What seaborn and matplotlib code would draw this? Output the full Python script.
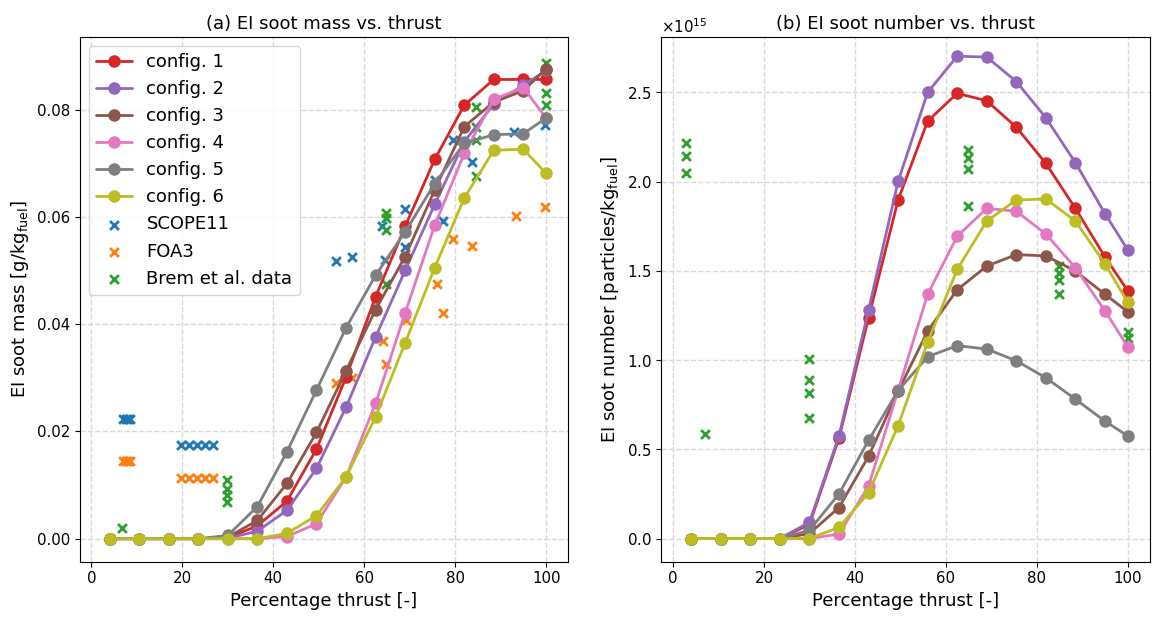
import numpy as np
import pandas as pd
import matplotlib
matplotlib.use("Agg")
import matplotlib.pyplot as plt
import seaborn as sns

# thrust settings of the model runs
thrust = [4, 10.5, 17, 23.5, 30, 36.5, 43, 49.5, 56, 62.5, 69, 75.5, 82, 88.5, 95, 100]

# EI soot mass [g/kg fuel]
mass_c1 = [0, 0, 0, 0, 0.0002, 0.0024, 0.0070, 0.0167, 0.0301, 0.0451, 0.0582, 0.0707, 0.0808, 0.0856, 0.0856, 0.0856]
mass_c2 = [0, 0, 0, 0, 0.0001, 0.0014, 0.0053, 0.0131, 0.0245, 0.0376, 0.0500, 0.0623, 0.0740, 0.0810, 0.0845, 0.0873]
mass_c3 = [0, 0, 0, 0, 0.0003, 0.0034, 0.0103, 0.0198, 0.0313, 0.0427, 0.0526, 0.0650, 0.0768, 0.0814, 0.0835, 0.0876]
mass_c4 = [0, 0, 0, 0, 0, 0, 0.0004, 0.0028, 0.0115, 0.0252, 0.0421, 0.0584, 0.0718, 0.0819, 0.0841, 0.0784]
mass_c5 = [0, 0, 0, 0, 0.0006, 0.0060, 0.0162, 0.0277, 0.0393, 0.0491, 0.0572, 0.0662, 0.0737, 0.0753, 0.0755, 0.0784]
mass_c6 = [0, 0, 0, 0, 0, 0, 0.0010, 0.0043, 0.0115, 0.0227, 0.0365, 0.0505, 0.0635, 0.0724, 0.0726, 0.0681]

# EI soot number [particles/kg fuel], in units of 1e15
num_c1 = [0, 0, 0, 0, 0.08, 0.563, 1.237, 1.897, 2.339, 2.495, 2.453, 2.305, 2.102, 1.850, 1.578, 1.389]
num_c2 = [0, 0, 0, 0, 0.091, 0.575, 1.281, 2.001, 2.500, 2.703, 2.698, 2.561, 2.358, 2.106, 1.821, 1.618]
num_c3 = [0, 0, 0, 0, 0.028, 0.174, 0.461, 0.825, 1.163, 1.394, 1.527, 1.591, 1.584, 1.499, 1.369, 1.271]
num_c4 = [0, 0, 0, 0, 0, 0.025, 0.294, 0.830, 1.369, 1.694, 1.850, 1.834, 1.707, 1.517, 1.276, 1.076]
num_c5 = [0, 0, 0, 0, 0.047, 0.250, 0.550, 0.829, 1.019, 1.081, 1.062, 0.996, 0.901, 0.781, 0.658, 0.575]
num_c6 = [0, 0, 0, 0, 0, 0.063, 0.256, 0.632, 1.100, 1.508, 1.779, 1.897, 1.903, 1.779, 1.540, 1.324]

# SCOPE11 estimates
scope_x = [7, 7.5, 8, 8.5, 19.7, 21.4, 23.2, 24.9, 26.7, 53.8, 57.4, 63.9, 64.5, 69.0, 69.0, 75.5, 77.3, 79.5, 83.7, 93.0, 99.8]
scope_y = [0.0224, 0.0224, 0.0224, 0.0224, 0.0175, 0.0175, 0.0175, 0.0175, 0.0175, 0.0518, 0.0526, 0.0582, 0.0519,
           0.0615, 0.0544, 0.0668, 0.0592, 0.0743, 0.0702, 0.0758, 0.0772]

# FOA3 estimates
foa_x = [7, 7.5, 8, 8.5, 19.7, 21.4, 23.2, 24.9, 26.7, 53.8, 57.4, 64.1, 64.8, 69.1, 76.0, 77.3, 79.5, 83.7, 93.4, 99.8]
foa_y = [0.0144, 0.0144, 0.0144, 0.0144, 0.0113, 0.0113, 0.0113, 0.0113, 0.0113, 0.0290, 0.0300, 0.0368, 0.0326,
         0.0408, 0.0474, 0.0420, 0.0559, 0.0545, 0.0601, 0.0618]

# Brem et al. measurements
brem_mass_x = [6.8, 29.8, 29.8, 29.8, 29.8, 64.7, 64.7, 64.7, 64.7, 84.6, 84.6, 84.6, 84.6, 100, 100, 100]
brem_mass_y = [0.0020, 0.0109, 0.0093, 0.0081, 0.0068, 0.0608, 0.0597, 0.0575, 0.0475, 0.0805, 0.0768, 0.0743,
               0.0676, 0.0886, 0.0831, 0.0808]
brem_num_x = [2.9, 2.9, 2.9, 7.0, 29.9, 29.9, 29.9, 29.9, 64.9, 64.9, 64.9, 64.9, 85, 85, 85, 85, 100, 100]
brem_num_y = [2.216, 2.143, 2.049, 0.586, 1.005, 0.891, 0.816, 0.673, 2.176, 2.134, 2.068, 1.863, 1.527, 1.489,
              1.447, 1.372, 1.157, 1.123]

configs = ['config. 1', 'config. 2', 'config. 3', 'config. 4', 'config. 5', 'config. 6']
colors = ['tab:red', 'tab:purple', 'tab:brown', 'tab:pink', 'tab:gray', 'tab:olive']

mass_all = [mass_c1, mass_c2, mass_c3, mass_c4, mass_c5, mass_c6]
num_all = [num_c1, num_c2, num_c3, num_c4, num_c5, num_c6]

rows = []
for name, m, n in zip(configs, mass_all, num_all):
    for t, a, b in zip(thrust, m, n):
        rows.append({'config': name, 'thrust': t, 'mass': a, 'number': b * 1e15})
df = pd.DataFrame(rows)

sns.set_style("ticks")
plt.rcParams['font.family'] = ['DejaVu Sans']
plt.rcParams['text.color'] = 'black'
plt.rcParams['axes.labelcolor'] = 'black'
plt.rcParams['xtick.color'] = 'black'
plt.rcParams['ytick.color'] = 'black'

fig, ax = plt.subplots(1, 2, figsize=(11.54, 6.18), dpi=100)
fig.subplots_adjust(left=0.069, right=0.9965, top=0.94, bottom=0.091, wspace=0.19)

pal = dict(zip(configs, colors))

# (a) soot mass
sns.lineplot(data=df, x='thrust', y='mass', hue='config', palette=pal, marker='o', markersize=9,
             markeredgewidth=0, linewidth=2, ax=ax[0])
sns.scatterplot(x=scope_x, y=scope_y, marker='x', color='tab:blue', s=40, linewidth=2, label='SCOPE11', ax=ax[0])
sns.scatterplot(x=foa_x, y=foa_y, marker='x', color='tab:orange', s=40, linewidth=2, label='FOA3', ax=ax[0])
sns.scatterplot(x=brem_mass_x, y=brem_mass_y, marker='x', color='tab:green', s=40, linewidth=2,
                label='Brem et al. data', ax=ax[0])
ax[0].set_title('(a) EI soot mass vs. thrust', fontsize=13)
ax[0].set_xlabel('Percentage thrust [-]', fontsize=13)
ax[0].set_ylabel('EI soot mass [g/kg$_{\\rm fuel}$]', fontsize=13)
ax[0].set_ylim(-0.0043, 0.0935)
ax[0].set_yticks([0, 0.02, 0.04, 0.06, 0.08])
ax[0].legend(loc='upper left', fontsize=13, title=None)

# (b) soot number
sns.lineplot(data=df, x='thrust', y='number', hue='config', palette=pal, marker='o', markersize=9,
             markeredgewidth=0, linewidth=2, legend=False, ax=ax[1])
sns.scatterplot(x=brem_num_x, y=np.array(brem_num_y) * 1e15, marker='x', color='tab:green', s=40,
                linewidth=2, legend=False, ax=ax[1])
ax[1].set_title('(b) EI soot number vs. thrust', fontsize=13)
ax[1].set_xlabel('Percentage thrust [-]', fontsize=13)
ax[1].set_ylabel('EI soot number [particles/kg$_{\\rm fuel}$]', fontsize=13)
ax[1].set_ylim(-0.13e15, 2.81e15)
ax[1].ticklabel_format(axis='y', style='sci', scilimits=(15, 15), useMathText=True)
ax[1].yaxis.get_offset_text().set_fontsize(10.8)

for a in ax:
    a.set_xlim(-2.6, 104.9)
    a.set_xticks([0, 20, 40, 60, 80, 100])
    a.grid(True, linestyle='--', color='#d9d9d9', linewidth=1)
    a.tick_params(labelsize=10.8)
    for s in a.spines.values():
        s.set_color('black')
        s.set_visible(True)

plt.savefig('out.png', dpi=100)
